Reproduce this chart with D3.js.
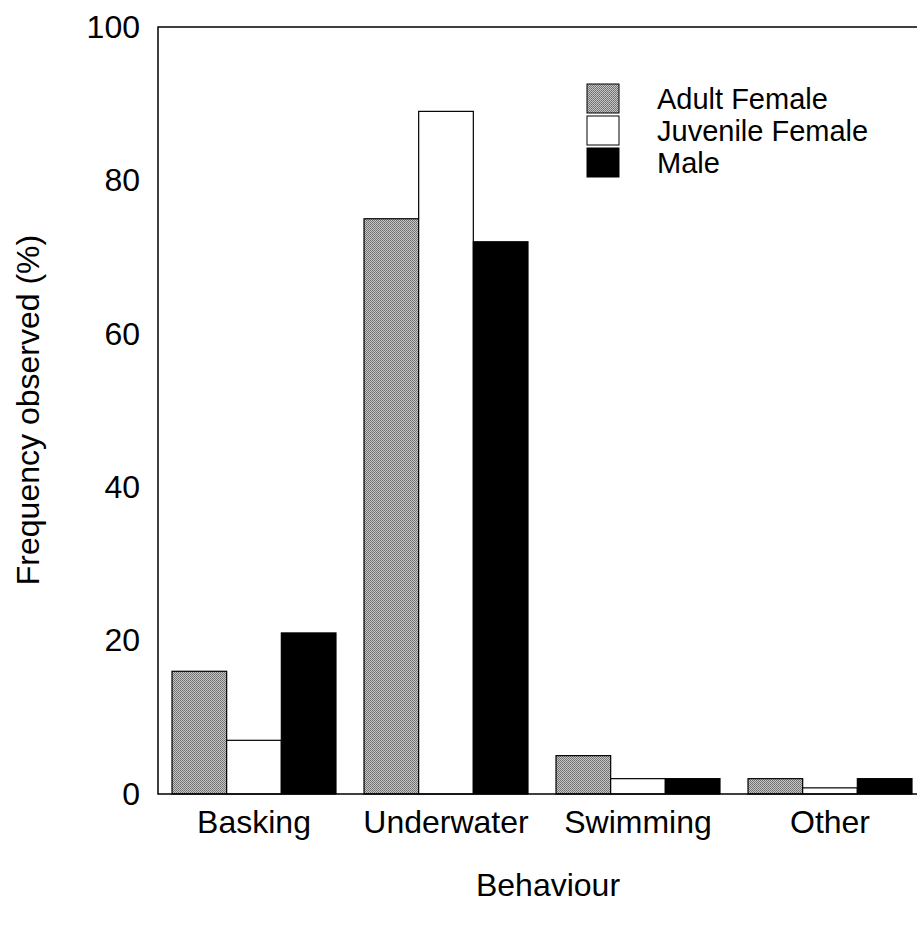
<!DOCTYPE html>
<html>
<head>
<meta charset="utf-8">
<script src="https://cdn.jsdelivr.net/npm/d3@7"></script>
<style>
  html, body { margin: 0; padding: 0; background: #fff; }
  text { font-family: "Liberation Sans", Arial, sans-serif; fill: #000; }
</style>
</head>
<body>
<svg id="chart"></svg>
<script>
// Data
const categories = ["Basking", "Underwater", "Swimming", "Other"];
const groups = ["Adult Female", "Juvenile Female", "Male"];
const adultFemale = [16, 75, 5, 2];
const juvenileFemale = [7, 89, 2, 0.8];
const male = [21, 72, 2, 2];
const yTicks = [0, 20, 40, 60, 80, 100];

const width = 917;
const height = 927;
const margin = { top: 27, left: 158, bottom: 133 };
const plotRight = 926; // frame runs off the right edge

const svg = d3.select("#chart")
  .attr("width", width)
  .attr("height", height);

// Stipple pattern for adult females
const defs = svg.append("defs");
const pat = defs.append("pattern")
  .attr("id", "stipple")
  .attr("width", 2)
  .attr("height", 2)
  .attr("patternUnits", "userSpaceOnUse");
pat.append("rect").attr("width", 2).attr("height", 2).attr("fill", "#c4c4c4");
pat.append("rect").attr("width", 1).attr("height", 1).attr("fill", "#707070");
pat.append("rect").attr("x", 1).attr("y", 1).attr("width", 1).attr("height", 1).attr("fill", "#7c7c7c");

const fills = ["url(#stipple)", "#fff", "#000"];

// Scales
const y = d3.scaleLinear()
  .domain([0, 100])
  .range([height - margin.bottom, margin.top]);

const x = d3.scaleBand()
  .domain(categories)
  .range([margin.left, plotRight])
  .paddingInner(0.146)
  .paddingOuter(0.073);

const xInner = d3.scaleBand()
  .domain(groups)
  .range([0, x.bandwidth()]);

// Bars
const series = [adultFemale, juvenileFemale, male];
const rows = [];
categories.forEach((c, i) => {
  groups.forEach((g, j) => rows.push({ cat: c, group: g, value: series[j][i], idx: j }));
});

svg.append("g")
  .selectAll("rect")
  .data(rows)
  .enter()
  .append("rect")
  .attr("x", d => x(d.cat) + xInner(d.group))
  .attr("y", d => y(d.value))
  .attr("width", xInner.bandwidth())
  .attr("height", d => y(0) - y(d.value))
  .attr("fill", d => fills[d.idx])
  .attr("stroke", "#000")
  .attr("stroke-width", 1.2);

// Frame (left, top, bottom)
svg.append("path")
  .attr("d", `M${plotRight},${y(100)}H${margin.left}V${y(0)}H${plotRight}`)
  .attr("fill", "none")
  .attr("stroke", "#000")
  .attr("stroke-width", 1.5);

// Y axis labels
const yAxis = d3.axisLeft(y)
  .tickValues(yTicks)
  .tickSize(0)
  .tickPadding(18);

svg.append("g")
  .attr("transform", `translate(${margin.left},0)`)
  .call(yAxis)
  .call(g => g.select(".domain").remove())
  .selectAll("text")
  .attr("font-size", 32)
  .style("font-family", "'Liberation Sans', Arial, sans-serif");

// X axis labels
const xAxis = d3.axisBottom(x)
  .tickSize(0)
  .tickPadding(16);

svg.append("g")
  .attr("transform", `translate(0,${y(0)})`)
  .call(xAxis)
  .call(g => g.select(".domain").remove())
  .selectAll("text")
  .attr("font-size", 32)
  .style("font-family", "'Liberation Sans', Arial, sans-serif");

// Axis titles
svg.append("text")
  .attr("x", 548)
  .attr("y", 896)
  .attr("text-anchor", "middle")
  .attr("font-size", 32)
  .text("Behaviour");

svg.append("text")
  .attr("transform", "translate(39,410) rotate(-90)")
  .attr("text-anchor", "middle")
  .attr("font-size", 32)
  .text("Frequency observed (%)");

// Legend
const legend = svg.append("g")
  .attr("transform", "translate(587,84)");

groups.forEach((g, i) => {
  const row = legend.append("g")
    .attr("transform", `translate(0,${i * 32})`);
  row.append("rect")
    .attr("width", 32)
    .attr("height", 29)
    .attr("fill", fills[i])
    .attr("stroke", "#000")
    .attr("stroke-width", 1);
  row.append("text")
    .attr("x", 70)
    .attr("y", 25)
    .attr("font-size", 29)
    .text(g);
});
</script>
</body>
</html>
